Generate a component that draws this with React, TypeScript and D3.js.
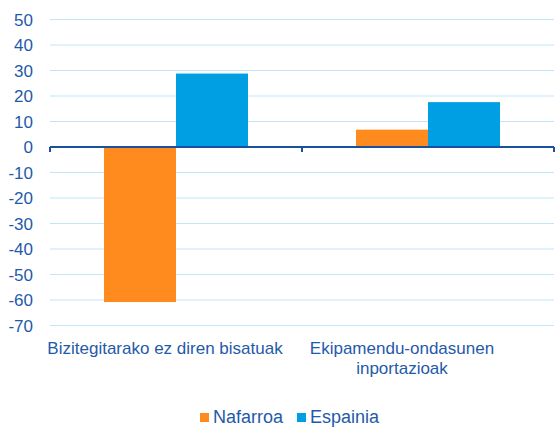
import React from 'react';
import * as d3 from 'd3';

const categories = [['Bizitegitarako ez diren bisatuak'], ['Ekipamendu-ondasunen', 'inportazioak']];
const seriesNames = ['Nafarroa', 'Espainia'];
const nafarroa = [-60.8, 6.8];
const espainia = [28.8, 17.6];
const yTicks = [50, 40, 30, 20, 10, 0, -10, -20, -30, -40, -50, -60, -70];

const colors = ['#FF8A1E', '#009FE3'];
const textColor = '#1F5AAA';

const App = () => {
  const width = 556;
  const height = 427;
  const margin = { top: 19.5, right: 2, bottom: 101.5, left: 50 };
  const innerWidth = width - margin.left - margin.right;
  const innerHeight = height - margin.top - margin.bottom;

  const x = d3.scaleBand().domain(['0', '1']).range([0, innerWidth]).paddingInner(0).paddingOuter(0);
  const x1 = d3.scaleBand().domain(['0', '1']).range([0, x.bandwidth()]).paddingOuter(0.75).paddingInner(0);
  const y = d3.scaleLinear().domain([-70, 50]).range([innerHeight, 0]);

  const values = [nafarroa, espainia];
  // label anchor shifts (labels in the source sit left of the band centre)
  const labelShift = [-11, -26];

  return (
    <svg width={width} height={height} style={{ position: 'absolute', left: 0, top: 0, fontFamily: '"Liberation Sans", Arial, sans-serif' }}>
      <rect width={width} height={height} fill="#fff" />
      <g transform={`translate(${margin.left},${margin.top})`}>
        {yTicks.map(t => (
          <g key={t}>
            {t !== 0 && (
              <line x1={0} x2={innerWidth} y1={y(t)} y2={y(t)} stroke="#C2E6F8" strokeWidth={1.2} />
            )}
            <text x={-17} y={y(t)} dy="0.36em" textAnchor="end" fontSize={17} fill={textColor}>
              {t}
            </text>
          </g>
        ))}
        {values.map((arr, si) =>
          arr.map((v, ci) => (
            <rect
              key={`${si}-${ci}`}
              x={(x(String(ci)) ?? 0) + (x1(String(si)) ?? 0)}
              width={x1.bandwidth()}
              y={y(Math.max(0, v))}
              height={Math.abs(y(v) - y(0))}
              fill={colors[si]}
            />
          ))
        )}
        <line x1={0} x2={innerWidth} y1={y(0)} y2={y(0)} stroke="#1B4FA0" strokeWidth={2} />
        {[0, 1, 2].map(i => {
          const xx = i === 2 ? innerWidth : (x(String(i)) ?? 0);
          return <line key={i} x1={xx} x2={xx} y1={y(0)} y2={y(0) + 5} stroke="#1B4FA0" strokeWidth={2} />;
        })}
        {categories.map((lines, ci) => {
          const cx = (x(String(ci)) ?? 0) + x.bandwidth() / 2 + labelShift[ci];
          return (
            <text key={ci} x={cx} y={innerHeight + 28} textAnchor="middle" fontSize={17} fill={textColor}>
              {lines.map((l, li) => (
                <tspan key={li} x={cx} dy={li === 0 ? 0 : 20}>
                  {l}
                </tspan>
              ))}
            </text>
          );
        })}
      </g>
      <g transform="translate(200,412)">
        {seriesNames.map((s, i) => (
          <g key={s} transform={`translate(${i * 97},0)`}>
            <rect x={0} y={1} width={9} height={9} fill={colors[i]} />
            <text x={13} y={5} dy="0.34em" fontSize={18} fill={textColor}>
              {s}
            </text>
          </g>
        ))}
      </g>
    </svg>
  );
};

export default App;
